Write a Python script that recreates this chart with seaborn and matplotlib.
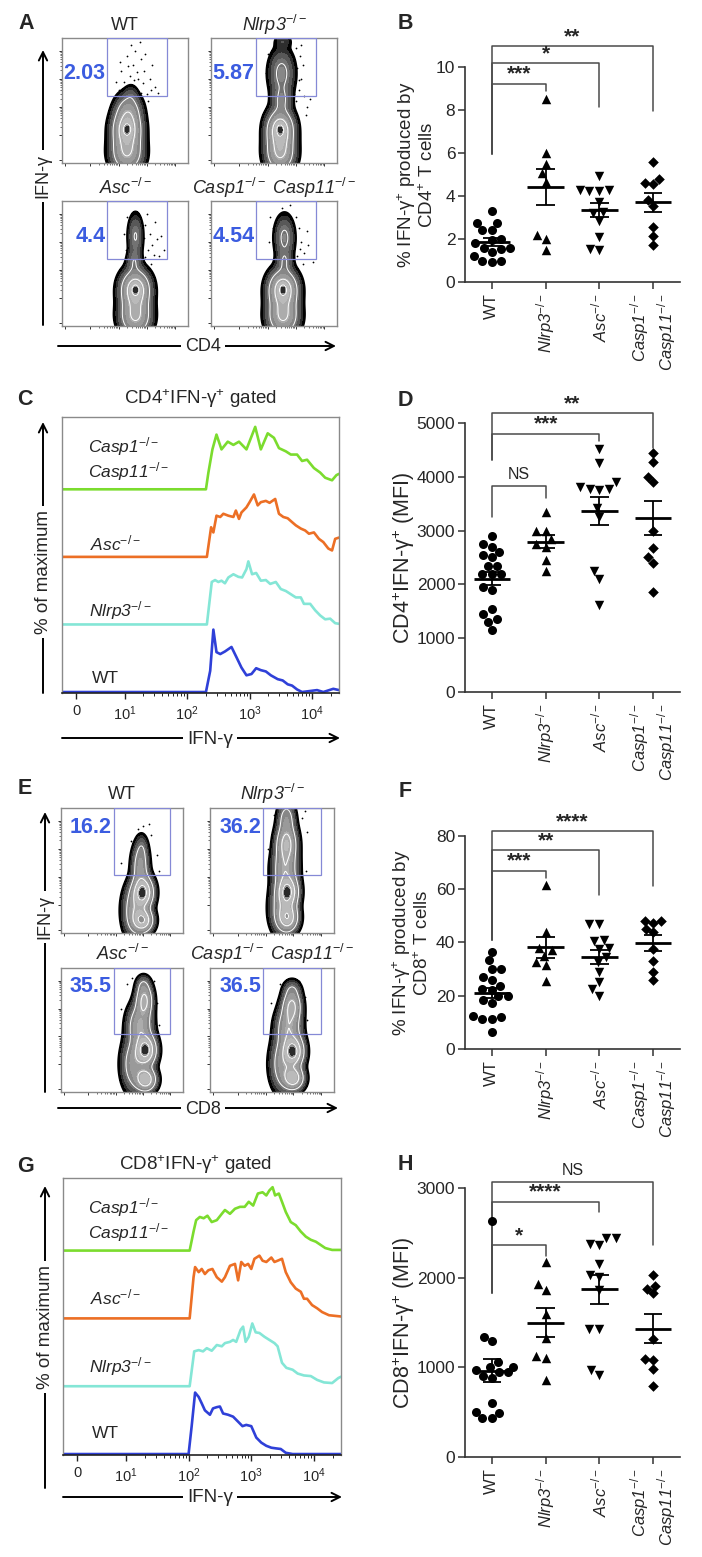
import numpy as np
import pandas as pd
import matplotlib
matplotlib.use('Agg')
import matplotlib.pyplot as plt
import matplotlib.ticker as mticker
from matplotlib.patches import Rectangle
import seaborn as sns

sns.set_style('ticks')
plt.rcParams['font.family'] = ['Liberation Sans', 'DejaVu Sans']
plt.rcParams['mathtext.fontset'] = 'custom'
plt.rcParams['mathtext.rm'] = 'Liberation Sans'
plt.rcParams['mathtext.it'] = 'Liberation Sans:italic'
plt.rcParams['mathtext.bf'] = 'Liberation Sans:bold'

# ---------------- data ----------------
groups = ['WT', 'Nlrp3', 'Asc', 'Casp1/11']
ko = '$^{-/-}$'
group_ticks = ['WT', 'Nlrp3' + ko, 'Asc' + ko, 'Casp1' + ko + '\nCasp11' + ko]
flow_titles = ['WT', 'Nlrp3' + ko, 'Asc' + ko, 'Casp1' + ko + ' Casp11' + ko]

# B: % IFN-g+ of CD4+
b_wt = [3.3, 2.75, 2.75, 2.4, 2.4, 2.0, 1.95, 1.8, 1.6, 1.6, 1.55, 1.4, 1.2, 1.0, 0.95, 1.0]
b_nlrp3 = [8.5, 6.0, 5.5, 5.05, 4.65, 2.2, 2.0, 1.5]
b_asc = [4.95, 4.3, 4.25, 4.25, 4.3, 3.7, 3.25, 3.2, 2.85, 2.1, 1.55, 1.5]
b_casp = [5.6, 4.8, 4.6, 4.55, 3.8, 3.55, 2.55, 2.15, 1.7]
b_sig = ['***', '*', '**']
b_bar = [9.22, 10.19, 10.96]
b_left_end = [5.97, 5.97, 5.97]
b_right_end = [8.9, 8.14, 7.98]

# D: CD4+IFN-g+ MFI
d_wt = [2900, 2750, 2700, 2600, 2550, 2500, 2350, 2350, 2200, 2200, 2200, 1950, 1900,
        1550, 1450, 1350, 1300, 1150]
d_nlrp3 = [3350, 3000, 3000, 2850, 2750, 2700, 2450, 2250]
d_asc = [4520, 4250, 3900, 3800, 3780, 3780, 3750, 3420, 3250, 2250, 2100, 1620]
d_casp = [4450, 4280, 4000, 3900, 3000, 2670, 2500, 2390, 1850]
d_sig = ['NS', '***', '**']
d_bar = [3820, 4800, 5175]
d_left_end = [3260, 4320, 4320]
d_right_end = [3600, 4660, 4535]

# F: % IFN-g+ of CD8+
f_wt = [36.5, 33.25, 30, 30, 27, 25.75, 23.75, 22.5, 22.25, 19.75, 19.75, 18.5, 17.25,
        12.25, 12, 11.25, 11.25, 6.25]
f_nlrp3 = [61.5, 44, 38, 37, 35, 32.5, 31.5, 25.5]
f_asc = [47, 47, 41, 40.5, 38, 37.5, 34.5, 32.5, 29, 25, 22.5, 20]
f_casp = [48, 48, 47.5, 45, 44, 37.5, 33, 29, 26]
f_sig = ['***', '**', '****']
f_bar = [67, 74.75, 81.9]
f_left_end = [40.75, 40.75, 40.75]
f_right_end = [64.1, 57.9, 61.25]

# H: CD8+IFN-g+ MFI
h_wt = [2640, 1340, 1290, 1060, 1010, 1000, 970, 950, 950, 900, 880, 600, 500, 490, 430, 430]
h_nlrp3 = [2180, 1930, 1860, 1600, 1330, 1130, 1110, 860]
h_asc = [2450, 2450, 2380, 2370, 2150, 2030, 2010, 1860, 1430, 1430, 970, 920]
h_casp = [2030, 1910, 1880, 1830, 1320, 1090, 1080, 980, 790]
h_sig = ['*', '****', 'NS']
h_bar = [2367, 2851, 3075]
h_left_end = [1834, 1834, 1834]
h_right_end = [2244, 2739, 2367]

# C: histograms, CD4+IFN-g+ gated (IFN-g intensity, % of max)
c_wt_x = [-3, 200, 234, 263, 295, 339, 403, 513, 617, 741, 891, 1072, 1274, 1514, 1820, 2188,
          2818, 3388, 4074, 4786, 5754, 6918, 12023, 15136, 21878, 27000]
c_wt_y = [0, 0, 33, 97, 62, 59, 63, 70, 54, 38, 26, 28, 37, 34, 32, 26, 20, 18, 12, 10, 4, 0,
          3, 0, 5, 3]
c_nlrp3_x = [-3, 207, 248, 280, 316, 355, 403, 457, 550, 661, 759, 891, 955, 1096, 1274, 1514,
             1820, 2138, 2630, 3162, 3802, 4571, 5495, 6607, 7413, 9333, 11220, 13490, 16218,
             19498, 23442, 27000]
c_nlrp3_y = [0, 0, 66, 69, 66, 68, 64, 73, 78, 74, 73, 86, 98, 78, 80, 68, 69, 63, 66, 55, 52,
             47, 42, 42, 32, 32, 22, 14, 8, 9, 2, 1]
c_asc_x = [-3, 207, 242, 263, 295, 339, 380, 457, 550, 603, 676, 741, 891, 1000, 1175, 1349,
           1514, 1820, 2089, 2570, 2951, 3467, 4074, 4786, 5495, 6607, 7762, 8913, 10715, 12882,
           15136, 18197, 20893, 23442, 27000]
c_asc_y = [0, 0, 46, 38, 64, 62, 67, 64, 62, 72, 59, 69, 77, 85, 97, 80, 85, 87, 84, 90, 67,
           62, 60, 54, 49, 44, 41, 36, 38, 28, 23, 13, 10, 28, 30]
c_casp_x = [-3, 200, 219, 254, 295, 355, 447, 550, 676, 891, 1230, 1514, 1950, 2455, 2951, 3802,
            4571, 5754, 6918, 8318, 10715, 13490, 16218, 20893, 24547, 27000]
c_casp_y = [0, 0, 26, 62, 85, 62, 74, 69, 74, 62, 97, 62, 87, 80, 64, 59, 54, 54, 44, 46, 33,
            26, 18, 14, 22, 24]

# G: histograms, CD8+IFN-g+ gated
g_wt_x = [-3, 100, 112, 127, 145, 162, 182, 219, 245, 282, 316, 355, 427, 513, 617, 724, 832,
          1000, 1202, 1445, 1738, 2089, 2455, 2951, 3548, 4571, 27000]
g_wt_y = [0, 0, 44, 97, 90, 80, 69, 62, 72, 74, 75, 64, 62, 59, 51, 44, 46, 44, 26, 18, 13, 10,
          9, 8, 2, 0, 0]
g_nlrp3_x = [-3, 104, 123, 145, 170, 195, 234, 282, 339, 380, 457, 513, 575, 676, 741, 813, 912,
             1038, 1175, 1349, 1622, 1950, 2344, 2630, 3090, 3631, 4571, 5495, 6918, 8913,
             11220, 14454, 19498, 24547, 27000]
g_nlrp3_y = [0, 0, 55, 57, 55, 60, 56, 65, 63, 68, 70, 73, 70, 89, 94, 70, 78, 99, 85, 84, 78,
             73, 68, 63, 37, 29, 26, 20, 17, 16, 10, 6, 5, 13, 15]
g_asc_x = [-3, 104, 120, 127, 145, 162, 182, 207, 240, 282, 339, 380, 457, 550, 617, 692, 785,
           891, 1000, 1122, 1349, 1514, 1738, 2089, 2344, 2630, 3090, 3548, 4266, 5129, 6166,
           6918, 7762, 9333, 11220, 13490, 17378, 27000]
g_asc_y = [0, 0, 65, 81, 73, 78, 70, 76, 78, 65, 58, 65, 83, 86, 60, 89, 83, 86, 78, 94, 99,
           91, 89, 96, 89, 91, 94, 73, 57, 47, 42, 31, 31, 21, 16, 10, 5, 3]
g_casp_x = [-3, 104, 120, 132, 151, 174, 200, 234, 282, 339, 380, 457, 550, 661, 785, 912, 1072,
            1274, 1514, 1738, 1950, 2188, 2399, 2754, 3090, 3548, 4266, 5129, 6166, 7413, 8913,
            10715, 12735, 15136, 19498, 27000]
g_casp_y = [0, 0, 30, 48, 53, 51, 55, 45, 48, 58, 64, 58, 66, 69, 69, 77, 71, 90, 92, 87, 95,
            100, 87, 90, 77, 61, 45, 40, 30, 22, 17, 14, 9, 4, 1, 1]

# A / E: flow populations (centre x, centre y, spread x, spread y, weight), log-decade units
a_wt_pops = [(2.30, 1.20, 0.30, 0.40, 1.0), (2.30, 0.35, 0.33, 0.40, 0.7),
             (2.35, 1.90, 0.27, 0.35, 0.45), (2.45, 2.45, 0.14, 0.22, 0.09),
             (2.30, 1.20, 0.10, 0.14, 0.35)]
a_nlrp3_pops = [(2.45, 1.20, 0.28, 0.40, 1.0), (2.45, 0.35, 0.30, 0.40, 0.7),
                (2.50, 3.20, 0.26, 0.50, 0.35), (2.50, 2.25, 0.20, 0.30, 0.25),
                (2.55, 4.35, 0.18, 0.15, 0.10), (2.45, 1.20, 0.09, 0.13, 0.3)]
a_asc_pops = [(2.60, 1.30, 0.30, 0.40, 1.0), (2.60, 0.35, 0.32, 0.40, 0.7),
              (2.60, 3.20, 0.15, 0.45, 0.28), (2.55, 2.30, 0.15, 0.25, 0.2),
              (2.60, 1.30, 0.09, 0.13, 0.3)]
a_casp_pops = [(2.55, 1.30, 0.30, 0.40, 1.0), (2.55, 0.35, 0.32, 0.40, 0.7),
               (2.60, 3.15, 0.20, 0.45, 0.32), (2.60, 2.30, 0.16, 0.25, 0.2),
               (2.55, 1.30, 0.09, 0.13, 0.3)]
e_wt_pops = [(3.00, 1.45, 0.22, 0.33, 1.0), (3.00, 0.45, 0.22, 0.25, 0.8),
             (2.70, 0.80, 0.25, 0.55, 0.45), (2.90, 2.40, 0.18, 0.45, 0.4),
             (2.95, 3.05, 0.13, 0.28, 0.12)]
e_nlrp3_pops = [(2.80, 1.45, 0.22, 0.33, 1.0), (2.80, 0.55, 0.22, 0.30, 0.8),
                (2.75, 3.20, 0.22, 0.40, 0.7), (2.70, 2.30, 0.26, 0.45, 0.5),
                (2.75, 4.10, 0.18, 0.35, 0.35), (2.55, 0.90, 0.25, 0.55, 0.3)]
e_asc_pops = [(3.10, 1.50, 0.22, 0.33, 1.0), (3.10, 0.45, 0.22, 0.25, 0.8),
              (3.05, 3.30, 0.18, 0.35, 0.6), (2.88, 2.40, 0.26, 0.45, 0.5),
              (2.65, 1.00, 0.25, 0.55, 0.4), (3.00, 3.85, 0.15, 0.20, 0.15)]
e_casp_pops = [(3.00, 1.45, 0.22, 0.33, 1.0), (3.00, 0.50, 0.22, 0.25, 0.8),
               (2.95, 3.10, 0.20, 0.35, 0.6), (2.82, 2.30, 0.26, 0.45, 0.5),
               (2.60, 1.00, 0.25, 0.55, 0.4), (2.95, 3.70, 0.18, 0.20, 0.15)]

# sparse single events outside the contours (x, y in decades)
a_wt_events = [(2.0, 2.6), (2.2, 2.9), (2.6, 2.7), (2.8, 2.5), (3.0, 2.45), (2.4, 3.1),
               (2.7, 3.0), (2.9, 3.3), (2.1, 3.3), (2.5, 3.5), (2.8, 3.7), (2.3, 3.8),
               (2.6, 4.0), (3.1, 3.0), (3.3, 2.7), (1.9, 2.9), (2.45, 4.2), (2.95, 3.9),
               (3.2, 3.5), (2.25, 2.55), (2.65, 3.25), (3.4, 2.5), (2.05, 3.6), (2.75, 4.3),
               (3.05, 2.2), (2.35, 3.45), (2.85, 2.85), (2.55, 2.95), (3.15, 2.6), (2.15, 2.35)]
a_nlrp3_events = [(3.0, 2.2), (3.1, 2.6), (3.2, 3.0), (3.05, 3.4), (3.3, 2.4), (3.15, 3.8),
                  (2.0, 3.9), (1.95, 3.2), (3.4, 2.0), (3.0, 4.1), (2.05, 2.6), (3.25, 3.5),
                  (3.5, 2.3), (2.9, 1.9), (3.35, 1.7), (3.1, 2.95), (2.95, 2.45), (3.2, 4.2)]
a_asc_events = [(2.95, 3.6), (3.1, 3.3), (3.2, 2.9), (3.05, 2.7), (3.35, 3.1), (3.45, 2.5),
                (2.3, 3.9), (2.2, 3.3), (3.0, 4.0), (3.3, 3.7), (3.5, 3.2), (2.95, 2.45),
                (3.6, 2.7), (3.15, 2.2), (2.9, 3.15), (3.25, 2.55), (2.25, 2.7)]
a_casp_events = [(2.1, 3.9), (2.2, 3.5), (3.0, 3.9), (3.1, 3.5), (3.2, 3.0), (3.3, 2.6),
                 (3.05, 2.5), (3.45, 2.9), (2.5, 4.2), (2.8, 4.3), (3.6, 2.3), (3.4, 3.4),
                 (2.05, 3.0), (3.25, 2.2), (2.95, 3.2), (3.15, 2.75)]
e_wt_events = [(3.0, 3.8), (2.8, 3.7), (3.3, 3.5), (3.5, 2.8), (2.55, 3.3), (3.6, 2.2),
               (3.4, 1.2), (2.2, 2.5), (3.2, 3.9)]
e_nlrp3_events = [(2.3, 4.2), (3.3, 4.1), (3.5, 3.6), (2.1, 3.0), (3.45, 2.2), (2.2, 1.8),
                  (3.4, 4.35)]
e_asc_events = [(2.4, 3.9), (2.6, 4.1), (3.4, 4.0), (3.5, 3.2), (2.2, 3.0), (2.3, 2.6),
                (3.6, 2.4)]
e_casp_events = [(2.5, 3.9), (2.8, 4.0), (3.2, 4.0), (3.4, 3.4), (2.2, 3.2), (3.5, 2.6),
                 (2.3, 2.4)]
a_pct = ['2.03', '5.87', '4.4', '4.54']
e_pct = ['16.2', '36.2', '35.5', '36.5']

# ---------------- figure ----------------
W, H = 702, 1557
fig = plt.figure(figsize=(W / 100, H / 100), dpi=100)


def px_axes(l, t, r, b):
    return fig.add_axes([l / W, 1 - b / H, (r - l) / W, (b - t) / H])


markers = ['o', '^', 'v', 'D']
msizes = [6.5, 6.8, 6.8, 5.4]


def dot_panel(box, values, ylim, ymax_tick, ystep, ylabel, label_size, label_x,
              sig, bar, lend, rend):
    ax = px_axes(*box)
    df = pd.DataFrame({'group': np.repeat(groups, [len(v) for v in values]),
                       'value': np.concatenate(values)})
    for g, mk, sz in zip(groups, markers, msizes):
        sns.swarmplot(data=df[df.group == g], x='group', y='value', order=groups,
                      marker=mk, size=sz, color='black', ax=ax, zorder=3)
    stats = df.groupby('group', sort=False)['value'].agg(['mean', 'sem'])
    for i, g in enumerate(groups):
        m, s = stats.loc[g, 'mean'], stats.loc[g, 'sem']
        ax.hlines(m, i - 0.34, i + 0.34, color='black', lw=2.0, zorder=4)
        ax.vlines(i, m - s, m + s, color='black', lw=1.3, zorder=4)
        ax.hlines([m - s, m + s], i - 0.17, i + 0.17, color='black', lw=1.3, zorder=4)
    for j, (t, yb, yl, yr) in enumerate(zip(sig, bar, lend, rend), start=1):
        ax.plot([0, 0, j, j], [yl, yb, yb, yr], color='#4a4a4a', lw=1.1, clip_on=False)
        star = '*' in t
        ax.annotate(t, (j / 2, yb), xytext=(0, 0.0 if star else 3),
                    textcoords='offset points', ha='center', va='bottom',
                    fontsize=15 if star else 11.5, fontweight='bold' if star else 'normal',
                    annotation_clip=False)
    ax.set_xlim(-0.5, 3.5)
    ax.set_ylim(0, ylim)
    ax.set_yticks(np.arange(0, ymax_tick + ystep / 2, ystep))
    ax.set_xticks(range(4))
    ax.set_xticklabels(group_ticks, rotation=90, fontsize=12, ma='right')
    for lbl in ax.get_xticklabels()[1:]:
        lbl.set_style('italic')
    ax.set_xlabel('')
    ax.set_ylabel(ylabel, fontsize=label_size, linespacing=1.0)
    ax.yaxis.set_label_coords(label_x, ymax_tick / ylim / 2)
    ax.tick_params(axis='y', labelsize=12.5, length=5, width=1.1, color='#333', pad=2)
    ax.tick_params(axis='x', length=5, width=1.1, color='#333', pad=3)
    sns.despine(ax=ax)
    for sp in ['left', 'bottom']:
        ax.spines[sp].set_color('#333')
        ax.spines[sp].set_linewidth(1.2)
    ax.spines['left'].set_bounds(0, ymax_tick)
    return ax


dot_panel((465, 37, 680, 282), [b_wt, b_nlrp3, b_asc, b_casp], 11.4, 10, 2,
          '% IFN-γ$^{+}$ produced by\nCD4$^{+}$ T cells', 13.5, -0.13,
          b_sig, b_bar, b_left_end, b_right_end)
dot_panel((465, 396, 680, 692), [d_wt, d_nlrp3, d_asc, d_casp], 5500, 5000, 1000,
          'CD4$^{+}$IFN-γ$^{+}$ (MFI)', 15.5, -0.225,
          d_sig, d_bar, d_left_end, d_right_end)
dot_panel((465, 820, 680, 1049), [f_wt, f_nlrp3, f_asc, f_casp], 86, 80, 20,
          '% IFN-γ$^{+}$ produced by\nCD8$^{+}$ T cells', 13.5, -0.153,
          f_sig, f_bar, f_left_end, f_right_end)
dot_panel((465, 1166, 680, 1457), [h_wt, h_nlrp3, h_asc, h_casp], 3250, 3000, 1000,
          'CD8$^{+}$IFN-γ$^{+}$ (MFI)', 15.5, -0.225,
          h_sig, h_bar, h_left_end, h_right_end)

hist_colors = ['#2f40d8', '#84e6d6', '#ec6f25', '#7bdc2e']


def hist_panel(box, curves, offset):
    ax = px_axes(*box)
    ax.set_xscale('symlog', linthresh=10, linscale=0.7)
    for k, ((x, y), c) in enumerate(zip(curves, hist_colors)):
        sns.lineplot(x=x, y=np.array(y, float) + k * offset, color=c, lw=1.9,
                     estimator=None, sort=False, ax=ax)
    ax.set_xlim(-2.9, 27000)
    ax.set_ylim(-1.5, 4.07 * offset)
    ax.set_yticks([])
    ax.set_xticks([0, 10, 100, 1000, 10000])
    ax.set_xticklabels(['0', '$10^{1}$', '$10^{2}$', '$10^{3}$', '$10^{4}$'], fontsize=10.5)
    ax.xaxis.set_minor_locator(mticker.SymmetricalLogLocator(linthresh=10, base=10,
                                                             subs=np.arange(2, 10)))
    ax.tick_params(axis='x', which='major', length=4, width=1, color='#222', pad=4)
    ax.tick_params(axis='x', which='minor', length=2, width=0.7, color='#222')
    ax.set_xlabel('')
    ax.set_ylabel('')
    for sp in ['left', 'top', 'right']:
        ax.spines[sp].set_color('#8a8a8a')
        ax.spines[sp].set_linewidth(1.0)
    ax.spines['bottom'].set_color('#222')
    ax.spines['bottom'].set_linewidth(1.2)
    return ax


hist_panel((62, 417, 339, 693), [(c_wt_x, c_wt_y), (c_nlrp3_x, c_nlrp3_y),
                                 (c_asc_x, c_asc_y), (c_casp_x, c_casp_y)], 105)
hist_panel((63, 1178, 341, 1455), [(g_wt_x, g_wt_y), (g_nlrp3_x, g_nlrp3_y),
                                   (g_asc_x, g_asc_y), (g_casp_x, g_casp_y)], 107)

flow_levels = [0.03, 0.055, 0.09, 0.15, 0.23, 0.33, 0.46, 0.62, 0.8, 0.93, 1.01]
flow_colors = ['#000000', '#2e2e2e', '#585858', '#727272', '#878787', '#9a9a9a',
               '#acacac', '#bababa', '#8e8e8e', '#2a2a2a']
DEC = 4.46
grid = np.linspace(0, DEC, 240)
GX, GY = np.meshgrid(grid, grid)


def flow_panel(box, pops, events, gate, pct, pct_y):
    ax = px_axes(*box)
    ex, ey = zip(*events)
    ax.scatter(ex, ey, s=1.6, color='black', linewidths=0, zorder=1)
    Z = np.zeros_like(GX)
    for cx, cy, sx, sy, w in pops:
        Z += w * np.exp(-((GX - cx) ** 2 / (2 * sx ** 2) + (GY - cy) ** 2 / (2 * sy ** 2)))
    Z /= Z.max()
    ax.contourf(GX, GY, Z, levels=flow_levels, colors=flow_colors, zorder=2)
    ax.contour(GX, GY, Z, levels=[0.03], colors='black', linewidths=1.4, zorder=2)
    ax.contour(GX, GY, Z, levels=[0.2, 0.5, 0.8], colors='white', linewidths=0.7, zorder=2)
    x0, x1, y0 = gate
    ax.add_patch(Rectangle((x0, y0), x1 - x0, DEC - y0, fill=False, ec='#8589d6', lw=0.9,
                           zorder=5))
    ax.text(x0 - 0.06, pct_y, pct, ha='right', va='center', color='#3b5ce0',
            fontsize=15.5, fontweight='bold', zorder=6)
    ax.set_xlim(0, DEC)
    ax.set_ylim(0, DEC)
    major = [0.12, 1, 2, 3, 4]
    minor = [d + np.log10(k) for d in (1, 2, 3) for k in range(2, 10)]
    for axis in (ax.xaxis, ax.yaxis):
        axis.set_major_locator(mticker.FixedLocator(major))
        axis.set_minor_locator(mticker.FixedLocator(minor))
        axis.set_major_formatter(mticker.NullFormatter())
    ax.tick_params(which='major', length=2.5, width=0.7, color='#333')
    ax.tick_params(which='minor', length=1.3, width=0.5, color='#333')
    for sp in ax.spines.values():
        sp.set_color('#8a8a8a')
        sp.set_linewidth(1.0)
    return ax


a_boxes = [(62, 38, 188, 163), (211, 38, 337, 163), (62, 201, 188, 326), (211, 201, 337, 326)]
e_boxes = [(61, 808, 183, 933), (210, 808, 334, 933), (61, 968, 183, 1092), (210, 968, 334, 1092)]
for bx, pops, ev, pct in zip(a_boxes, [a_wt_pops, a_nlrp3_pops, a_asc_pops, a_casp_pops],
                             [a_wt_events, a_nlrp3_events, a_asc_events, a_casp_events], a_pct):
    flow_panel(bx, pops, ev, (1.6, 3.7, 2.38), pct, 3.2)
for bx, pops, ev, pct in zip(e_boxes, [e_wt_pops, e_nlrp3_pops, e_asc_pops, e_casp_pops],
                             [e_wt_events, e_nlrp3_events, e_asc_events, e_casp_events], e_pct):
    flow_panel(bx, pops, ev, (1.92, 4.0, 2.07), pct, 3.78)

# ---------------- overlay: letters, arrows, labels ----------------
ov = fig.add_axes([0, 0, 1, 1])
ov.set_xlim(0, W)
ov.set_ylim(H, 0)
ov.axis('off')

for letter, (lx, ly) in zip('ABCDEFGH', [(26, 23), (405, 23), (25, 399), (405, 400),
                                          (25, 788), (405, 791), (25, 1167), (405, 1165)]):
    ov.text(lx, ly, letter, ha='center', va='center', fontsize=15.5, fontweight='bold')


def arrow(x0, y0, x1, y1):
    ov.annotate('', xy=(x1, y1), xytext=(x0, y0),
                arrowprops=dict(arrowstyle='->,head_length=0.6,head_width=0.3', lw=1.4,
                                color='black', shrinkA=0, shrinkB=0))


def arrow_label(x, y, s, rot=0, size=13):
    ov.text(x, y, s, rotation=rot, ha='center', va='center', fontsize=size,
            bbox=dict(fc='white', ec='none', pad=3))


def name_text(x, y, s, **kw):
    ov.text(x, y, s, style='normal' if s == 'WT' else 'italic', **kw)


# A
arrow(43, 325, 43, 50)
arrow_label(43, 176, 'IFN-γ', 90)
arrow(58, 346, 336, 346)
arrow_label(203, 346, 'CD4')
for bx, t in zip(a_boxes, flow_titles):
    name_text((bx[0] + bx[2]) / 2, bx[1] - 13, t, ha='center', va='center', fontsize=13)
# E
arrow(45, 1092, 45, 812)
arrow_label(45, 917, 'IFN-γ', 90)
arrow(58, 1108, 338, 1108)
arrow_label(203, 1110, 'CD8')
for bx, t in zip(e_boxes, flow_titles):
    name_text((bx[0] + bx[2]) / 2, bx[1] - 14, t, ha='center', va='center', fontsize=13)
# C
ov.text(200, 399, 'CD4$^{+}$IFN-γ$^{+}$ gated', ha='center', va='center', fontsize=13.5)
arrow(43, 693, 43, 422)
arrow_label(43, 572, '% of maximum', 90, 13.5)
arrow(62, 738, 340, 738)
arrow_label(210, 739, 'IFN-γ', 0, 13.5)
for (tx, ty), t in zip([(92, 678), (89, 611), (90, 543), (88, 459)], group_ticks):
    name_text(tx, ty, t, ha='left', va='center', fontsize=12.5, linespacing=1.15)
# G
ov.text(195, 1165, 'CD8$^{+}$IFN-γ$^{+}$ gated', ha='center', va='center', fontsize=13.5)
arrow(45, 1488, 45, 1186)
arrow_label(45, 1327, '% of maximum', 90, 13.5)
arrow(63, 1497, 342, 1497)
arrow_label(210, 1497, 'IFN-γ', 0, 13.5)
for (tx, ty), t in zip([(92, 1433), (89, 1367), (90, 1297), (88, 1220)], group_ticks):
    name_text(tx, ty, t, ha='left', va='center', fontsize=12.5, linespacing=1.15)

fig.savefig('out.png', dpi=100)
